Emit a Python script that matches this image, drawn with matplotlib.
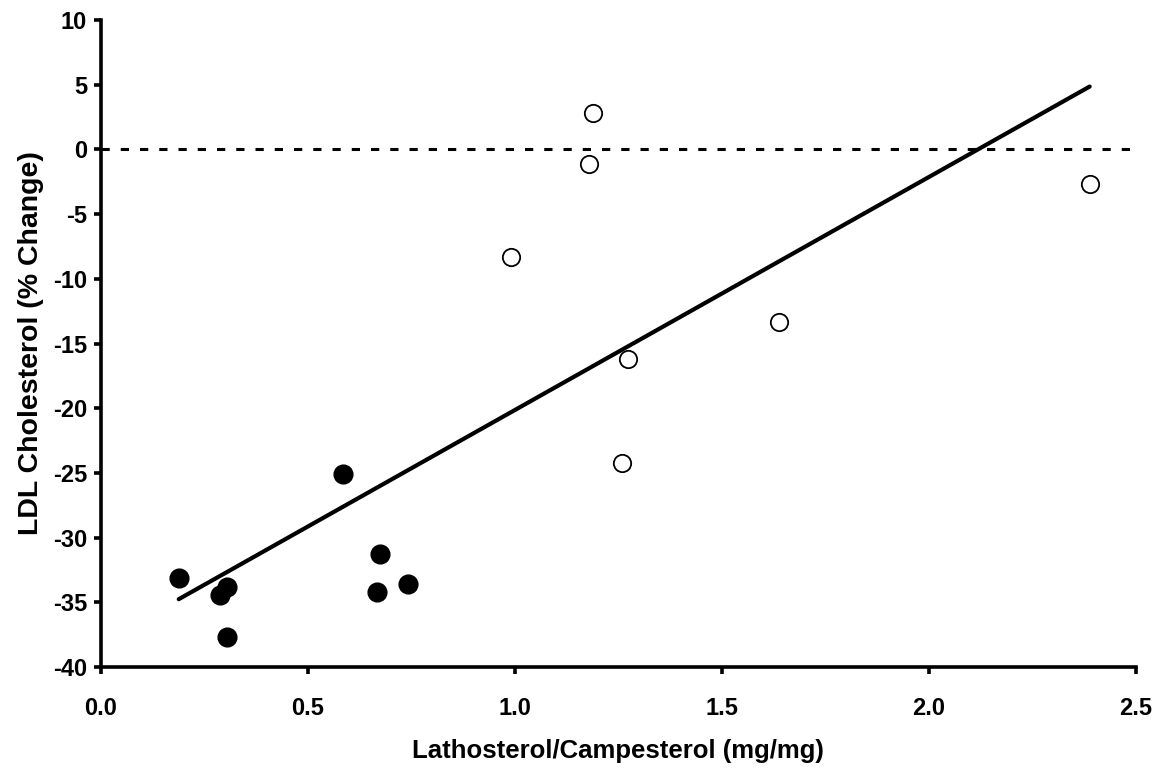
import numpy as np
import matplotlib.pyplot as plt

plt.rcParams['font.family'] = 'Liberation Sans'
plt.rcParams['font.weight'] = 'bold'

# filled circles
x_filled = [0.188, 0.287, 0.304, 0.304, 0.585, 0.667, 0.674, 0.742]
y_filled = [-33.1, -34.4, -33.8, -37.7, -25.1, -34.2, -31.25, -33.6]
# open circles
x_open = [0.990, 1.179, 1.188, 1.258, 1.273, 1.638, 2.389]
y_open = [-8.3, -1.1, 2.8, -24.2, -16.2, -13.3, -2.7]

xticks = [0.0, 0.5, 1.0, 1.5, 2.0, 2.5]
yticks = [-40, -35, -30, -25, -20, -15, -10, -5, 0, 5, 10]

x_all = np.array(x_filled + x_open)
y_all = np.array(y_filled + y_open)
slope, icpt = np.polyfit(x_all, y_all, 1)
xf = np.array([x_all.min(), x_all.max()])

fig = plt.figure(figsize=(11.6, 7.69), dpi=100)
ax = fig.add_axes([0.087, 0.1326, 0.892, 0.8414])

ax.axhline(0, color='black', lw=2.2, dashes=(2.7, 3.6), zorder=1)
ax.plot(xf, slope*xf + icpt, color='black', lw=3, solid_capstyle='round', zorder=2)
ax.plot(x_filled, y_filled, 'o', color='black', ms=13.5, zorder=3)
ax.plot(x_open, y_open, 'o', mfc='white', mec='black', mew=1.3, ms=12.5, zorder=3)

ax.set_xlim(0, 2.5)
ax.set_ylim(-40, 10)
ax.set_xticks(xticks)
ax.set_yticks(yticks)
ax.set_xticklabels(['%.1f' % t for t in xticks])
ax.set_yticklabels(['%d' % t for t in yticks])

for s in ['top', 'right']:
    ax.spines[s].set_visible(False)
for s in ['left', 'bottom']:
    ax.spines[s].set_linewidth(2.6)
ax.tick_params(axis='both', direction='out', length=5, width=2.6, labelsize=17, pad=5)
ax.tick_params(axis='x', pad=16.5)

ax.set_xlabel('Lathosterol/Campesterol (mg/mg)', fontsize=18.5, fontweight='bold', labelpad=14)
ax.set_ylabel('LDL Cholesterol (% Change)', fontsize=20.5, fontweight='bold', labelpad=6)

fig.savefig('out.png', dpi=100)
